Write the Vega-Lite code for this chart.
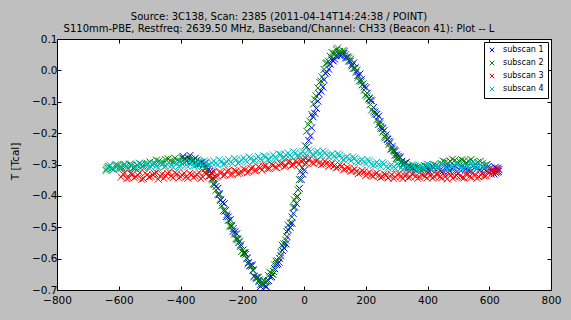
{
"$schema":"https://vega.github.io/schema/vega-lite/v6.json",
"width":494,"height":251,
"autosize":{"type":"none"},
"padding":{"left":57,"top":39,"right":20,"bottom":30},
"background":"#bfbfbf",
"title":{"text":["Source: 3C138, Scan: 2385 (2011-04-14T14:24:38 / POINT)","S110mm-PBE, Restfreq: 2639.50 MHz, Baseband/Channel: CH33 (Beacon 41): Plot -- L"],"fontSize":10,"font":"DejaVu Sans","fontWeight":"normal","color":"black","anchor":"middle","dx":-25,"offset":0,"lineHeight":12},
"config":{"view":{"fill":"white","stroke":"black","strokeWidth":1},
"axis":{"grid":false,"domain":false,"labelFlush":false,"labelOverlap":false,"tickColor":"black","tickSize":-4,"tickWidth":1,"labelColor":"black","labelFont":"DejaVu Sans","labelFontSize":10.5,"labelPadding":4,"titleFont":"DejaVu Sans","titleFontSize":10.5,"titleFontWeight":"normal","titleColor":"black"},
"legend":{"orient":"top-right","offset":3,"padding":4,"strokeColor":"black","fillColor":"white","labelFont":"DejaVu Sans","labelFontSize":8,"labelColor":"black","rowPadding":3,"symbolSize":20,"symbolStrokeWidth":1,"symbolType":"M-1,-1L1,1M1,-1L-1,1","symbolFillColor":"transparent","labelOffset":7}},
"data":{"values":[
{"s":"subscan 1","x":-392,"y":-0.274},{"s":"subscan 1","x":-381,"y":-0.29},{"s":"subscan 1","x":-369,"y":-0.271},{"s":"subscan 1","x":-358,"y":-0.288},{"s":"subscan 1","x":-352,"y":-0.28},{"s":"subscan 1","x":-341,"y":-0.3},{"s":"subscan 1","x":-332,"y":-0.293},{"s":"subscan 1","x":-322,"y":-0.296},{"s":"subscan 1","x":-311,"y":-0.316},{"s":"subscan 1","x":-300,"y":-0.326},{"s":"subscan 1","x":-291,"y":-0.364},{"s":"subscan 1","x":-279,"y":-0.376},{"s":"subscan 1","x":-270,"y":-0.414},{"s":"subscan 1","x":-258,"y":-0.425},{"s":"subscan 1","x":-251,"y":-0.466},{"s":"subscan 1","x":-239,"y":-0.476},{"s":"subscan 1","x":-230,"y":-0.513},{"s":"subscan 1","x":-218,"y":-0.521},{"s":"subscan 1","x":-211,"y":-0.549},{"s":"subscan 1","x":-198,"y":-0.573},{"s":"subscan 1","x":-191,"y":-0.582},{"s":"subscan 1","x":-180,"y":-0.612},{"s":"subscan 1","x":-169,"y":-0.62},{"s":"subscan 1","x":-161,"y":-0.656},{"s":"subscan 1","x":-150,"y":-0.661},{"s":"subscan 1","x":-141,"y":-0.689},{"s":"subscan 1","x":-129,"y":-0.682},{"s":"subscan 1","x":-122,"y":-0.69},{"s":"subscan 1","x":-109,"y":-0.659},{"s":"subscan 1","x":-101,"y":-0.65},{"s":"subscan 1","x":-89,"y":-0.619},{"s":"subscan 1","x":-81,"y":-0.611},{"s":"subscan 1","x":-70,"y":-0.574},{"s":"subscan 1","x":-59,"y":-0.553},{"s":"subscan 1","x":-51,"y":-0.508},{"s":"subscan 1","x":-39,"y":-0.487},{"s":"subscan 1","x":-30,"y":-0.436},{"s":"subscan 1","x":-21,"y":-0.402},{"s":"subscan 1","x":-9,"y":-0.348},{"s":"subscan 1","x":1,"y":-0.318},{"s":"subscan 1","x":9,"y":-0.244},{"s":"subscan 1","x":21,"y":-0.209},{"s":"subscan 1","x":29,"y":-0.148},{"s":"subscan 1","x":40,"y":-0.121},{"s":"subscan 1","x":49,"y":-0.075},{"s":"subscan 1","x":61,"y":-0.053},{"s":"subscan 1","x":69,"y":-0.009},{"s":"subscan 1","x":80,"y":0.004},{"s":"subscan 1","x":91,"y":0.033},{"s":"subscan 1","x":99,"y":0.036},{"s":"subscan 1","x":111,"y":0.056},{"s":"subscan 1","x":121,"y":0.047},{"s":"subscan 1","x":129,"y":0.054},{"s":"subscan 1","x":141,"y":0.043},{"s":"subscan 1","x":150,"y":0.029},{"s":"subscan 1","x":161,"y":0.024},{"s":"subscan 1","x":169,"y":-0.006},{"s":"subscan 1","x":181,"y":-0.012},{"s":"subscan 1","x":189,"y":-0.046},{"s":"subscan 1","x":201,"y":-0.055},{"s":"subscan 1","x":211,"y":-0.091},{"s":"subscan 1","x":219,"y":-0.097},{"s":"subscan 1","x":230,"y":-0.133},{"s":"subscan 1","x":242,"y":-0.146},{"s":"subscan 1","x":250,"y":-0.184},{"s":"subscan 1","x":259,"y":-0.192},{"s":"subscan 1","x":271,"y":-0.22},{"s":"subscan 1","x":279,"y":-0.229},{"s":"subscan 1","x":291,"y":-0.256},{"s":"subscan 1","x":300,"y":-0.27},{"s":"subscan 1","x":310,"y":-0.276},{"s":"subscan 1","x":321,"y":-0.299},{"s":"subscan 1","x":331,"y":-0.294},{"s":"subscan 1","x":341,"y":-0.311},{"s":"subscan 1","x":352,"y":-0.313},{"s":"subscan 1","x":368,"y":-0.308},{"s":"subscan 1","x":381,"y":-0.32},{"s":"subscan 1","x":398,"y":-0.306},{"s":"subscan 1","x":412,"y":-0.316},{"s":"subscan 1","x":427,"y":-0.305},{"s":"subscan 1","x":441,"y":-0.318},{"s":"subscan 1","x":458,"y":-0.309},{"s":"subscan 1","x":471,"y":-0.319},{"s":"subscan 1","x":487,"y":-0.304},{"s":"subscan 1","x":502,"y":-0.315},{"s":"subscan 1","x":518,"y":-0.311},{"s":"subscan 1","x":531,"y":-0.319},{"s":"subscan 1","x":547,"y":-0.306},{"s":"subscan 1","x":562,"y":-0.313},{"s":"subscan 1","x":578,"y":-0.308},{"s":"subscan 1","x":591,"y":-0.321},{"s":"subscan 1","x":603,"y":-0.312},{"s":"subscan 1","x":611,"y":-0.325},{"s":"subscan 1","x":619,"y":-0.309},{"s":"subscan 1","x":626,"y":-0.324},{"s":"subscan 1","x":631,"y":-0.316},
{"s":"subscan 1","x":-386,"y":-0.283},{"s":"subscan 1","x":-375,"y":-0.279},{"s":"subscan 1","x":-363,"y":-0.29},{"s":"subscan 1","x":-346,"y":-0.286},{"s":"subscan 1","x":-336,"y":-0.297},{"s":"subscan 1","x":-327,"y":-0.301},{"s":"subscan 1","x":-316,"y":-0.306},{"s":"subscan 1","x":-305,"y":-0.322},{"s":"subscan 1","x":-295,"y":-0.343},{"s":"subscan 1","x":-285,"y":-0.37},{"s":"subscan 1","x":-275,"y":-0.393},{"s":"subscan 1","x":-264,"y":-0.421},{"s":"subscan 1","x":-255,"y":-0.447},{"s":"subscan 1","x":-245,"y":-0.467},{"s":"subscan 1","x":-235,"y":-0.497},{"s":"subscan 1","x":-224,"y":-0.515},{"s":"subscan 1","x":-215,"y":-0.537},{"s":"subscan 1","x":-205,"y":-0.556},{"s":"subscan 1","x":-195,"y":-0.581},{"s":"subscan 1","x":-185,"y":-0.598},{"s":"subscan 1","x":-175,"y":-0.622},{"s":"subscan 1","x":-165,"y":-0.636},{"s":"subscan 1","x":-155,"y":-0.66},{"s":"subscan 1","x":-146,"y":-0.673},{"s":"subscan 1","x":-135,"y":-0.683},{"s":"subscan 1","x":-125,"y":-0.688},{"s":"subscan 1","x":-115,"y":-0.67},{"s":"subscan 1","x":-105,"y":-0.657},{"s":"subscan 1","x":-95,"y":-0.632},{"s":"subscan 1","x":-85,"y":-0.616},{"s":"subscan 1","x":-75,"y":-0.59},{"s":"subscan 1","x":-65,"y":-0.566},{"s":"subscan 1","x":-55,"y":-0.53},{"s":"subscan 1","x":-45,"y":-0.5},{"s":"subscan 1","x":-35,"y":-0.456},{"s":"subscan 1","x":-25,"y":-0.424},{"s":"subscan 1","x":-15,"y":-0.376},{"s":"subscan 1","x":-4,"y":-0.331},{"s":"subscan 1","x":5,"y":-0.28},{"s":"subscan 1","x":15,"y":-0.223},{"s":"subscan 1","x":25,"y":-0.183},{"s":"subscan 1","x":35,"y":-0.137},{"s":"subscan 1","x":45,"y":-0.098},{"s":"subscan 1","x":55,"y":-0.066},{"s":"subscan 1","x":65,"y":-0.03},{"s":"subscan 1","x":75,"y":-0.006},{"s":"subscan 1","x":85,"y":0.02},{"s":"subscan 1","x":95,"y":0.03},{"s":"subscan 1","x":105,"y":0.046},{"s":"subscan 1","x":116,"y":0.047},{"s":"subscan 1","x":125,"y":0.052},{"s":"subscan 1","x":135,"y":0.04},{"s":"subscan 1","x":145,"y":0.03},{"s":"subscan 1","x":155,"y":0.014},{"s":"subscan 1","x":165,"y":0.008},{"s":"subscan 1","x":175,"y":-0.016},{"s":"subscan 1","x":185,"y":-0.03},{"s":"subscan 1","x":195,"y":-0.052},{"s":"subscan 1","x":205,"y":-0.073},{"s":"subscan 1","x":215,"y":-0.095},{"s":"subscan 1","x":225,"y":-0.118},{"s":"subscan 1","x":236,"y":-0.14},{"s":"subscan 1","x":246,"y":-0.163},{"s":"subscan 1","x":255,"y":-0.185},{"s":"subscan 1","x":265,"y":-0.206},{"s":"subscan 1","x":275,"y":-0.226},{"s":"subscan 1","x":285,"y":-0.243},{"s":"subscan 1","x":295,"y":-0.258},{"s":"subscan 1","x":305,"y":-0.274},{"s":"subscan 1","x":316,"y":-0.29},{"s":"subscan 1","x":326,"y":-0.296},{"s":"subscan 1","x":336,"y":-0.305},{"s":"subscan 1","x":346,"y":-0.309},{"s":"subscan 1","x":360,"y":-0.317},{"s":"subscan 1","x":375,"y":-0.309},{"s":"subscan 1","x":390,"y":-0.314},{"s":"subscan 1","x":405,"y":-0.321},{"s":"subscan 1","x":420,"y":-0.31},{"s":"subscan 1","x":434,"y":-0.312},{"s":"subscan 1","x":450,"y":-0.321},{"s":"subscan 1","x":465,"y":-0.309},{"s":"subscan 1","x":480,"y":-0.314},{"s":"subscan 1","x":495,"y":-0.322},{"s":"subscan 1","x":510,"y":-0.308},{"s":"subscan 1","x":525,"y":-0.314},{"s":"subscan 1","x":540,"y":-0.322},{"s":"subscan 1","x":555,"y":-0.309},{"s":"subscan 1","x":570,"y":-0.316},{"s":"subscan 1","x":585,"y":-0.313},{"s":"subscan 1","x":597,"y":-0.306},{"s":"subscan 1","x":607,"y":-0.318},{"s":"subscan 1","x":615,"y":-0.33},{"s":"subscan 1","x":623,"y":-0.312},{"s":"subscan 1","x":629,"y":-0.322},
{"s":"subscan 2","x":-641,"y":-0.319},{"s":"subscan 2","x":-632,"y":-0.306},{"s":"subscan 2","x":-624,"y":-0.313},{"s":"subscan 2","x":-611,"y":-0.305},{"s":"subscan 2","x":-598,"y":-0.309},{"s":"subscan 2","x":-583,"y":-0.3},{"s":"subscan 2","x":-571,"y":-0.314},{"s":"subscan 2","x":-560,"y":-0.302},{"s":"subscan 2","x":-548,"y":-0.309},{"s":"subscan 2","x":-533,"y":-0.296},{"s":"subscan 2","x":-521,"y":-0.305},{"s":"subscan 2","x":-506,"y":-0.297},{"s":"subscan 2","x":-492,"y":-0.3},{"s":"subscan 2","x":-478,"y":-0.286},{"s":"subscan 2","x":-463,"y":-0.294},{"s":"subscan 2","x":-448,"y":-0.284},{"s":"subscan 2","x":-433,"y":-0.289},{"s":"subscan 2","x":-418,"y":-0.28},{"s":"subscan 2","x":-402,"y":-0.29},{"s":"subscan 2","x":-389,"y":-0.282},{"s":"subscan 2","x":-374,"y":-0.294},{"s":"subscan 2","x":-358,"y":-0.285},{"s":"subscan 2","x":-344,"y":-0.3},{"s":"subscan 2","x":-333,"y":-0.297},{"s":"subscan 2","x":-321,"y":-0.314},{"s":"subscan 2","x":-312,"y":-0.318},{"s":"subscan 2","x":-299,"y":-0.346},{"s":"subscan 2","x":-292,"y":-0.36},{"s":"subscan 2","x":-279,"y":-0.396},{"s":"subscan 2","x":-271,"y":-0.411},{"s":"subscan 2","x":-261,"y":-0.447},{"s":"subscan 2","x":-249,"y":-0.459},{"s":"subscan 2","x":-241,"y":-0.496},{"s":"subscan 2","x":-229,"y":-0.504},{"s":"subscan 2","x":-221,"y":-0.537},{"s":"subscan 2","x":-209,"y":-0.544},{"s":"subscan 2","x":-202,"y":-0.577},{"s":"subscan 2","x":-189,"y":-0.586},{"s":"subscan 2","x":-181,"y":-0.617},{"s":"subscan 2","x":-169,"y":-0.624},{"s":"subscan 2","x":-162,"y":-0.657},{"s":"subscan 2","x":-149,"y":-0.659},{"s":"subscan 2","x":-141,"y":-0.682},{"s":"subscan 2","x":-131,"y":-0.669},{"s":"subscan 2","x":-119,"y":-0.672},{"s":"subscan 2","x":-111,"y":-0.643},{"s":"subscan 2","x":-99,"y":-0.641},{"s":"subscan 2","x":-91,"y":-0.608},{"s":"subscan 2","x":-79,"y":-0.6},{"s":"subscan 2","x":-71,"y":-0.557},{"s":"subscan 2","x":-59,"y":-0.541},{"s":"subscan 2","x":-51,"y":-0.493},{"s":"subscan 2","x":-39,"y":-0.467},{"s":"subscan 2","x":-31,"y":-0.413},{"s":"subscan 2","x":-19,"y":-0.381},{"s":"subscan 2","x":-11,"y":-0.322},{"s":"subscan 2","x":-1,"y":-0.286},{"s":"subscan 2","x":9,"y":-0.194},{"s":"subscan 2","x":19,"y":-0.162},{"s":"subscan 2","x":31,"y":-0.107},{"s":"subscan 2","x":39,"y":-0.081},{"s":"subscan 2","x":51,"y":-0.038},{"s":"subscan 2","x":59,"y":-0.021},{"s":"subscan 2","x":71,"y":0.022},{"s":"subscan 2","x":79,"y":0.029},{"s":"subscan 2","x":91,"y":0.057},{"s":"subscan 2","x":101,"y":0.054},{"s":"subscan 2","x":109,"y":0.071},{"s":"subscan 2","x":121,"y":0.055},{"s":"subscan 2","x":131,"y":0.061},{"s":"subscan 2","x":139,"y":0.04},{"s":"subscan 2","x":151,"y":0.036},{"s":"subscan 2","x":159,"y":0.006},{"s":"subscan 2","x":171,"y":0.001},{"s":"subscan 2","x":179,"y":-0.034},{"s":"subscan 2","x":191,"y":-0.043},{"s":"subscan 2","x":199,"y":-0.079},{"s":"subscan 2","x":211,"y":-0.088},{"s":"subscan 2","x":219,"y":-0.126},{"s":"subscan 2","x":231,"y":-0.139},{"s":"subscan 2","x":241,"y":-0.172},{"s":"subscan 2","x":249,"y":-0.178},{"s":"subscan 2","x":261,"y":-0.212},{"s":"subscan 2","x":269,"y":-0.218},{"s":"subscan 2","x":281,"y":-0.251},{"s":"subscan 2","x":291,"y":-0.253},{"s":"subscan 2","x":299,"y":-0.281},{"s":"subscan 2","x":311,"y":-0.279},{"s":"subscan 2","x":321,"y":-0.302},{"s":"subscan 2","x":331,"y":-0.294},{"s":"subscan 2","x":346,"y":-0.316},{"s":"subscan 2","x":361,"y":-0.305},{"s":"subscan 2","x":376,"y":-0.315},{"s":"subscan 2","x":391,"y":-0.304},{"s":"subscan 2","x":406,"y":-0.313},{"s":"subscan 2","x":421,"y":-0.3},{"s":"subscan 2","x":436,"y":-0.306},{"s":"subscan 2","x":451,"y":-0.289},{"s":"subscan 2","x":466,"y":-0.295},{"s":"subscan 2","x":481,"y":-0.283},{"s":"subscan 2","x":496,"y":-0.293},{"s":"subscan 2","x":511,"y":-0.285},{"s":"subscan 2","x":526,"y":-0.294},{"s":"subscan 2","x":541,"y":-0.284},{"s":"subscan 2","x":556,"y":-0.298},{"s":"subscan 2","x":571,"y":-0.29},{"s":"subscan 2","x":586,"y":-0.303},
{"s":"subscan 2","x":-636,"y":-0.311},{"s":"subscan 2","x":-618,"y":-0.316},{"s":"subscan 2","x":-604,"y":-0.302},{"s":"subscan 2","x":-590,"y":-0.311},{"s":"subscan 2","x":-577,"y":-0.305},{"s":"subscan 2","x":-565,"y":-0.299},{"s":"subscan 2","x":-554,"y":-0.311},{"s":"subscan 2","x":-540,"y":-0.303},{"s":"subscan 2","x":-527,"y":-0.3},{"s":"subscan 2","x":-513,"y":-0.306},{"s":"subscan 2","x":-499,"y":-0.292},{"s":"subscan 2","x":-485,"y":-0.297},{"s":"subscan 2","x":-470,"y":-0.289},{"s":"subscan 2","x":-455,"y":-0.296},{"s":"subscan 2","x":-440,"y":-0.282},{"s":"subscan 2","x":-425,"y":-0.292},{"s":"subscan 2","x":-410,"y":-0.286},{"s":"subscan 2","x":-395,"y":-0.278},{"s":"subscan 2","x":-381,"y":-0.289},{"s":"subscan 2","x":-366,"y":-0.283},{"s":"subscan 2","x":-351,"y":-0.292},{"s":"subscan 2","x":-338,"y":-0.291},{"s":"subscan 2","x":-327,"y":-0.305},{"s":"subscan 2","x":-316,"y":-0.311},{"s":"subscan 2","x":-305,"y":-0.335},{"s":"subscan 2","x":-296,"y":-0.349},{"s":"subscan 2","x":-285,"y":-0.382},{"s":"subscan 2","x":-275,"y":-0.397},{"s":"subscan 2","x":-266,"y":-0.431},{"s":"subscan 2","x":-255,"y":-0.448},{"s":"subscan 2","x":-245,"y":-0.478},{"s":"subscan 2","x":-235,"y":-0.494},{"s":"subscan 2","x":-225,"y":-0.522},{"s":"subscan 2","x":-215,"y":-0.54},{"s":"subscan 2","x":-206,"y":-0.561},{"s":"subscan 2","x":-195,"y":-0.583},{"s":"subscan 2","x":-185,"y":-0.6},{"s":"subscan 2","x":-175,"y":-0.623},{"s":"subscan 2","x":-165,"y":-0.638},{"s":"subscan 2","x":-155,"y":-0.664},{"s":"subscan 2","x":-145,"y":-0.668},{"s":"subscan 2","x":-136,"y":-0.68},{"s":"subscan 2","x":-125,"y":-0.674},{"s":"subscan 2","x":-115,"y":-0.654},{"s":"subscan 2","x":-105,"y":-0.648},{"s":"subscan 2","x":-95,"y":-0.62},{"s":"subscan 2","x":-85,"y":-0.607},{"s":"subscan 2","x":-75,"y":-0.58},{"s":"subscan 2","x":-65,"y":-0.553},{"s":"subscan 2","x":-55,"y":-0.515},{"s":"subscan 2","x":-45,"y":-0.487},{"s":"subscan 2","x":-35,"y":-0.437},{"s":"subscan 2","x":-25,"y":-0.404},{"s":"subscan 2","x":-15,"y":-0.348},{"s":"subscan 2","x":-6,"y":-0.311},{"s":"subscan 2","x":4,"y":-0.24},{"s":"subscan 2","x":14,"y":-0.173},{"s":"subscan 2","x":25,"y":-0.14},{"s":"subscan 2","x":35,"y":-0.092},{"s":"subscan 2","x":45,"y":-0.056},{"s":"subscan 2","x":55,"y":-0.034},{"s":"subscan 2","x":65,"y":0.003},{"s":"subscan 2","x":75,"y":0.024},{"s":"subscan 2","x":85,"y":0.045},{"s":"subscan 2","x":96,"y":0.052},{"s":"subscan 2","x":105,"y":0.066},{"s":"subscan 2","x":115,"y":0.06},{"s":"subscan 2","x":126,"y":0.063},{"s":"subscan 2","x":135,"y":0.05},{"s":"subscan 2","x":145,"y":0.04},{"s":"subscan 2","x":155,"y":0.019},{"s":"subscan 2","x":165,"y":0.006},{"s":"subscan 2","x":175,"y":-0.022},{"s":"subscan 2","x":185,"y":-0.036},{"s":"subscan 2","x":195,"y":-0.063},{"s":"subscan 2","x":205,"y":-0.082},{"s":"subscan 2","x":215,"y":-0.109},{"s":"subscan 2","x":225,"y":-0.13},{"s":"subscan 2","x":236,"y":-0.158},{"s":"subscan 2","x":245,"y":-0.171},{"s":"subscan 2","x":255,"y":-0.197},{"s":"subscan 2","x":265,"y":-0.214},{"s":"subscan 2","x":275,"y":-0.236},{"s":"subscan 2","x":286,"y":-0.25},{"s":"subscan 2","x":295,"y":-0.27},{"s":"subscan 2","x":305,"y":-0.281},{"s":"subscan 2","x":316,"y":-0.293},{"s":"subscan 2","x":326,"y":-0.299},{"s":"subscan 2","x":338,"y":-0.307},{"s":"subscan 2","x":354,"y":-0.311},{"s":"subscan 2","x":368,"y":-0.309},{"s":"subscan 2","x":384,"y":-0.313},{"s":"subscan 2","x":398,"y":-0.307},{"s":"subscan 2","x":414,"y":-0.306},{"s":"subscan 2","x":428,"y":-0.303},{"s":"subscan 2","x":444,"y":-0.297},{"s":"subscan 2","x":458,"y":-0.292},{"s":"subscan 2","x":474,"y":-0.29},{"s":"subscan 2","x":488,"y":-0.287},{"s":"subscan 2","x":504,"y":-0.29},{"s":"subscan 2","x":518,"y":-0.288},{"s":"subscan 2","x":534,"y":-0.29},{"s":"subscan 2","x":548,"y":-0.291},{"s":"subscan 2","x":563,"y":-0.293},{"s":"subscan 2","x":578,"y":-0.296},{"s":"subscan 2","x":592,"y":-0.3},
{"s":"subscan 3","x":-592,"y":-0.34},{"s":"subscan 3","x":-580,"y":-0.328},{"s":"subscan 3","x":-568,"y":-0.343},{"s":"subscan 3","x":-556,"y":-0.331},{"s":"subscan 3","x":-544,"y":-0.339},{"s":"subscan 3","x":-532,"y":-0.326},{"s":"subscan 3","x":-520,"y":-0.345},{"s":"subscan 3","x":-508,"y":-0.333},{"s":"subscan 3","x":-496,"y":-0.338},{"s":"subscan 3","x":-484,"y":-0.329},{"s":"subscan 3","x":-472,"y":-0.347},{"s":"subscan 3","x":-460,"y":-0.331},{"s":"subscan 3","x":-448,"y":-0.336},{"s":"subscan 3","x":-436,"y":-0.324},{"s":"subscan 3","x":-424,"y":-0.342},{"s":"subscan 3","x":-412,"y":-0.33},{"s":"subscan 3","x":-400,"y":-0.339},{"s":"subscan 3","x":-388,"y":-0.327},{"s":"subscan 3","x":-376,"y":-0.344},{"s":"subscan 3","x":-364,"y":-0.333},{"s":"subscan 3","x":-352,"y":-0.337},{"s":"subscan 3","x":-340,"y":-0.325},{"s":"subscan 3","x":-328,"y":-0.34},{"s":"subscan 3","x":-316,"y":-0.329},{"s":"subscan 3","x":-304,"y":-0.336},{"s":"subscan 3","x":-292,"y":-0.322},{"s":"subscan 3","x":-280,"y":-0.337},{"s":"subscan 3","x":-268,"y":-0.326},{"s":"subscan 3","x":-256,"y":-0.333},{"s":"subscan 3","x":-244,"y":-0.318},{"s":"subscan 3","x":-232,"y":-0.331},{"s":"subscan 3","x":-220,"y":-0.321},{"s":"subscan 3","x":-208,"y":-0.327},{"s":"subscan 3","x":-196,"y":-0.314},{"s":"subscan 3","x":-184,"y":-0.326},{"s":"subscan 3","x":-172,"y":-0.312},{"s":"subscan 3","x":-160,"y":-0.32},{"s":"subscan 3","x":-148,"y":-0.307},{"s":"subscan 3","x":-136,"y":-0.318},{"s":"subscan 3","x":-124,"y":-0.304},{"s":"subscan 3","x":-112,"y":-0.313},{"s":"subscan 3","x":-100,"y":-0.302},{"s":"subscan 3","x":-88,"y":-0.31},{"s":"subscan 3","x":-76,"y":-0.297},{"s":"subscan 3","x":-64,"y":-0.307},{"s":"subscan 3","x":-52,"y":-0.293},{"s":"subscan 3","x":-40,"y":-0.303},{"s":"subscan 3","x":-28,"y":-0.289},{"s":"subscan 3","x":-16,"y":-0.299},{"s":"subscan 3","x":-4,"y":-0.284},{"s":"subscan 3","x":8,"y":-0.296},{"s":"subscan 3","x":20,"y":-0.282},{"s":"subscan 3","x":32,"y":-0.297},{"s":"subscan 3","x":44,"y":-0.286},{"s":"subscan 3","x":56,"y":-0.301},{"s":"subscan 3","x":68,"y":-0.29},{"s":"subscan 3","x":80,"y":-0.306},{"s":"subscan 3","x":92,"y":-0.296},{"s":"subscan 3","x":104,"y":-0.311},{"s":"subscan 3","x":116,"y":-0.301},{"s":"subscan 3","x":128,"y":-0.317},{"s":"subscan 3","x":140,"y":-0.309},{"s":"subscan 3","x":152,"y":-0.322},{"s":"subscan 3","x":164,"y":-0.314},{"s":"subscan 3","x":176,"y":-0.329},{"s":"subscan 3","x":188,"y":-0.319},{"s":"subscan 3","x":200,"y":-0.335},{"s":"subscan 3","x":212,"y":-0.324},{"s":"subscan 3","x":224,"y":-0.338},{"s":"subscan 3","x":236,"y":-0.327},{"s":"subscan 3","x":248,"y":-0.341},{"s":"subscan 3","x":260,"y":-0.33},{"s":"subscan 3","x":272,"y":-0.343},{"s":"subscan 3","x":284,"y":-0.332},{"s":"subscan 3","x":296,"y":-0.34},{"s":"subscan 3","x":308,"y":-0.329},{"s":"subscan 3","x":320,"y":-0.345},{"s":"subscan 3","x":332,"y":-0.333},{"s":"subscan 3","x":344,"y":-0.339},{"s":"subscan 3","x":356,"y":-0.328},{"s":"subscan 3","x":368,"y":-0.344},{"s":"subscan 3","x":380,"y":-0.331},{"s":"subscan 3","x":392,"y":-0.338},{"s":"subscan 3","x":404,"y":-0.326},{"s":"subscan 3","x":416,"y":-0.343},{"s":"subscan 3","x":428,"y":-0.332},{"s":"subscan 3","x":440,"y":-0.34},{"s":"subscan 3","x":452,"y":-0.327},{"s":"subscan 3","x":464,"y":-0.346},{"s":"subscan 3","x":476,"y":-0.334},{"s":"subscan 3","x":488,"y":-0.338},{"s":"subscan 3","x":500,"y":-0.328},{"s":"subscan 3","x":512,"y":-0.342},{"s":"subscan 3","x":524,"y":-0.331},{"s":"subscan 3","x":536,"y":-0.339},{"s":"subscan 3","x":548,"y":-0.326},{"s":"subscan 3","x":560,"y":-0.344},{"s":"subscan 3","x":572,"y":-0.333},{"s":"subscan 3","x":584,"y":-0.337},{"s":"subscan 3","x":596,"y":-0.323},{"s":"subscan 3","x":606,"y":-0.331},{"s":"subscan 3","x":614,"y":-0.315},{"s":"subscan 3","x":622,"y":-0.327},{"s":"subscan 3","x":628,"y":-0.312},
{"s":"subscan 3","x":-586,"y":-0.331},{"s":"subscan 3","x":-574,"y":-0.345},{"s":"subscan 3","x":-562,"y":-0.329},{"s":"subscan 3","x":-550,"y":-0.342},{"s":"subscan 3","x":-538,"y":-0.334},{"s":"subscan 3","x":-526,"y":-0.347},{"s":"subscan 3","x":-514,"y":-0.327},{"s":"subscan 3","x":-502,"y":-0.34},{"s":"subscan 3","x":-490,"y":-0.333},{"s":"subscan 3","x":-478,"y":-0.325},{"s":"subscan 3","x":-466,"y":-0.338},{"s":"subscan 3","x":-454,"y":-0.344},{"s":"subscan 3","x":-442,"y":-0.329},{"s":"subscan 3","x":-430,"y":-0.337},{"s":"subscan 3","x":-418,"y":-0.326},{"s":"subscan 3","x":-406,"y":-0.343},{"s":"subscan 3","x":-394,"y":-0.334},{"s":"subscan 3","x":-382,"y":-0.339},{"s":"subscan 3","x":-370,"y":-0.328},{"s":"subscan 3","x":-358,"y":-0.341},{"s":"subscan 3","x":-346,"y":-0.332},{"s":"subscan 3","x":-334,"y":-0.345},{"s":"subscan 3","x":-322,"y":-0.326},{"s":"subscan 3","x":-310,"y":-0.338},{"s":"subscan 3","x":-298,"y":-0.331},{"s":"subscan 3","x":-286,"y":-0.34},{"s":"subscan 3","x":-274,"y":-0.324},{"s":"subscan 3","x":-262,"y":-0.336},{"s":"subscan 3","x":-250,"y":-0.322},{"s":"subscan 3","x":-238,"y":-0.333},{"s":"subscan 3","x":-226,"y":-0.318},{"s":"subscan 3","x":-214,"y":-0.329},{"s":"subscan 3","x":-202,"y":-0.324},{"s":"subscan 3","x":-190,"y":-0.317},{"s":"subscan 3","x":-178,"y":-0.323},{"s":"subscan 3","x":-166,"y":-0.309},{"s":"subscan 3","x":-154,"y":-0.318},{"s":"subscan 3","x":-142,"y":-0.311},{"s":"subscan 3","x":-130,"y":-0.306},{"s":"subscan 3","x":-118,"y":-0.314},{"s":"subscan 3","x":-106,"y":-0.3},{"s":"subscan 3","x":-94,"y":-0.309},{"s":"subscan 3","x":-82,"y":-0.302},{"s":"subscan 3","x":-70,"y":-0.296},{"s":"subscan 3","x":-58,"y":-0.304},{"s":"subscan 3","x":-46,"y":-0.291},{"s":"subscan 3","x":-34,"y":-0.3},{"s":"subscan 3","x":-22,"y":-0.292},{"s":"subscan 3","x":-10,"y":-0.288},{"s":"subscan 3","x":2,"y":-0.298},{"s":"subscan 3","x":14,"y":-0.285},{"s":"subscan 3","x":26,"y":-0.294},{"s":"subscan 3","x":38,"y":-0.289},{"s":"subscan 3","x":50,"y":-0.295},{"s":"subscan 3","x":62,"y":-0.298},{"s":"subscan 3","x":74,"y":-0.296},{"s":"subscan 3","x":86,"y":-0.3},{"s":"subscan 3","x":98,"y":-0.304},{"s":"subscan 3","x":110,"y":-0.308},{"s":"subscan 3","x":122,"y":-0.306},{"s":"subscan 3","x":134,"y":-0.315},{"s":"subscan 3","x":146,"y":-0.313},{"s":"subscan 3","x":158,"y":-0.319},{"s":"subscan 3","x":170,"y":-0.322},{"s":"subscan 3","x":182,"y":-0.326},{"s":"subscan 3","x":194,"y":-0.324},{"s":"subscan 3","x":206,"y":-0.33},{"s":"subscan 3","x":218,"y":-0.334},{"s":"subscan 3","x":230,"y":-0.331},{"s":"subscan 3","x":242,"y":-0.336},{"s":"subscan 3","x":254,"y":-0.339},{"s":"subscan 3","x":266,"y":-0.334},{"s":"subscan 3","x":278,"y":-0.338},{"s":"subscan 3","x":290,"y":-0.344},{"s":"subscan 3","x":302,"y":-0.333},{"s":"subscan 3","x":314,"y":-0.338},{"s":"subscan 3","x":326,"y":-0.336},{"s":"subscan 3","x":338,"y":-0.342},{"s":"subscan 3","x":350,"y":-0.331},{"s":"subscan 3","x":362,"y":-0.338},{"s":"subscan 3","x":374,"y":-0.34},{"s":"subscan 3","x":386,"y":-0.334},{"s":"subscan 3","x":398,"y":-0.343},{"s":"subscan 3","x":410,"y":-0.336},{"s":"subscan 3","x":422,"y":-0.339},{"s":"subscan 3","x":434,"y":-0.331},{"s":"subscan 3","x":446,"y":-0.343},{"s":"subscan 3","x":458,"y":-0.338},{"s":"subscan 3","x":470,"y":-0.331},{"s":"subscan 3","x":482,"y":-0.344},{"s":"subscan 3","x":494,"y":-0.335},{"s":"subscan 3","x":506,"y":-0.337},{"s":"subscan 3","x":518,"y":-0.343},{"s":"subscan 3","x":530,"y":-0.33},{"s":"subscan 3","x":542,"y":-0.341},{"s":"subscan 3","x":554,"y":-0.335},{"s":"subscan 3","x":566,"y":-0.339},{"s":"subscan 3","x":578,"y":-0.329},{"s":"subscan 3","x":590,"y":-0.336},{"s":"subscan 3","x":600,"y":-0.326},{"s":"subscan 3","x":610,"y":-0.32},{"s":"subscan 3","x":618,"y":-0.322},{"s":"subscan 3","x":625,"y":-0.318},
{"s":"subscan 4","x":-640,"y":-0.314},{"s":"subscan 4","x":-628,"y":-0.302},{"s":"subscan 4","x":-616,"y":-0.316},{"s":"subscan 4","x":-604,"y":-0.305},{"s":"subscan 4","x":-592,"y":-0.311},{"s":"subscan 4","x":-580,"y":-0.299},{"s":"subscan 4","x":-568,"y":-0.315},{"s":"subscan 4","x":-556,"y":-0.303},{"s":"subscan 4","x":-544,"y":-0.309},{"s":"subscan 4","x":-532,"y":-0.297},{"s":"subscan 4","x":-520,"y":-0.312},{"s":"subscan 4","x":-508,"y":-0.3},{"s":"subscan 4","x":-496,"y":-0.308},{"s":"subscan 4","x":-484,"y":-0.295},{"s":"subscan 4","x":-472,"y":-0.311},{"s":"subscan 4","x":-460,"y":-0.299},{"s":"subscan 4","x":-448,"y":-0.306},{"s":"subscan 4","x":-436,"y":-0.294},{"s":"subscan 4","x":-424,"y":-0.309},{"s":"subscan 4","x":-412,"y":-0.297},{"s":"subscan 4","x":-400,"y":-0.305},{"s":"subscan 4","x":-388,"y":-0.292},{"s":"subscan 4","x":-376,"y":-0.307},{"s":"subscan 4","x":-364,"y":-0.296},{"s":"subscan 4","x":-352,"y":-0.303},{"s":"subscan 4","x":-340,"y":-0.29},{"s":"subscan 4","x":-328,"y":-0.305},{"s":"subscan 4","x":-316,"y":-0.293},{"s":"subscan 4","x":-304,"y":-0.301},{"s":"subscan 4","x":-292,"y":-0.288},{"s":"subscan 4","x":-280,"y":-0.302},{"s":"subscan 4","x":-268,"y":-0.29},{"s":"subscan 4","x":-256,"y":-0.298},{"s":"subscan 4","x":-244,"y":-0.284},{"s":"subscan 4","x":-232,"y":-0.297},{"s":"subscan 4","x":-220,"y":-0.285},{"s":"subscan 4","x":-208,"y":-0.293},{"s":"subscan 4","x":-196,"y":-0.279},{"s":"subscan 4","x":-184,"y":-0.292},{"s":"subscan 4","x":-172,"y":-0.28},{"s":"subscan 4","x":-160,"y":-0.288},{"s":"subscan 4","x":-148,"y":-0.274},{"s":"subscan 4","x":-136,"y":-0.287},{"s":"subscan 4","x":-124,"y":-0.275},{"s":"subscan 4","x":-112,"y":-0.283},{"s":"subscan 4","x":-100,"y":-0.269},{"s":"subscan 4","x":-88,"y":-0.281},{"s":"subscan 4","x":-76,"y":-0.268},{"s":"subscan 4","x":-64,"y":-0.277},{"s":"subscan 4","x":-52,"y":-0.263},{"s":"subscan 4","x":-40,"y":-0.276},{"s":"subscan 4","x":-28,"y":-0.263},{"s":"subscan 4","x":-16,"y":-0.272},{"s":"subscan 4","x":-4,"y":-0.258},{"s":"subscan 4","x":8,"y":-0.271},{"s":"subscan 4","x":20,"y":-0.259},{"s":"subscan 4","x":32,"y":-0.27},{"s":"subscan 4","x":44,"y":-0.257},{"s":"subscan 4","x":56,"y":-0.272},{"s":"subscan 4","x":68,"y":-0.262},{"s":"subscan 4","x":80,"y":-0.276},{"s":"subscan 4","x":92,"y":-0.266},{"s":"subscan 4","x":104,"y":-0.28},{"s":"subscan 4","x":116,"y":-0.27},{"s":"subscan 4","x":128,"y":-0.285},{"s":"subscan 4","x":140,"y":-0.275},{"s":"subscan 4","x":152,"y":-0.289},{"s":"subscan 4","x":164,"y":-0.28},{"s":"subscan 4","x":176,"y":-0.294},{"s":"subscan 4","x":188,"y":-0.284},{"s":"subscan 4","x":200,"y":-0.298},{"s":"subscan 4","x":212,"y":-0.289},{"s":"subscan 4","x":224,"y":-0.303},{"s":"subscan 4","x":236,"y":-0.293},{"s":"subscan 4","x":248,"y":-0.307},{"s":"subscan 4","x":260,"y":-0.298},{"s":"subscan 4","x":272,"y":-0.311},{"s":"subscan 4","x":284,"y":-0.301},{"s":"subscan 4","x":296,"y":-0.313},{"s":"subscan 4","x":308,"y":-0.303},{"s":"subscan 4","x":320,"y":-0.316},{"s":"subscan 4","x":332,"y":-0.305},{"s":"subscan 4","x":344,"y":-0.314},{"s":"subscan 4","x":356,"y":-0.302},{"s":"subscan 4","x":368,"y":-0.317},{"s":"subscan 4","x":380,"y":-0.306},{"s":"subscan 4","x":392,"y":-0.313},{"s":"subscan 4","x":404,"y":-0.301},{"s":"subscan 4","x":416,"y":-0.316},{"s":"subscan 4","x":428,"y":-0.305},{"s":"subscan 4","x":440,"y":-0.312},{"s":"subscan 4","x":452,"y":-0.3},{"s":"subscan 4","x":464,"y":-0.315},{"s":"subscan 4","x":476,"y":-0.304},{"s":"subscan 4","x":488,"y":-0.311},{"s":"subscan 4","x":500,"y":-0.299},{"s":"subscan 4","x":512,"y":-0.314},{"s":"subscan 4","x":524,"y":-0.303},{"s":"subscan 4","x":536,"y":-0.31},{"s":"subscan 4","x":548,"y":-0.298},{"s":"subscan 4","x":560,"y":-0.313},{"s":"subscan 4","x":572,"y":-0.302},{"s":"subscan 4","x":584,"y":-0.309},{"s":"subscan 4","x":594,"y":-0.3},
{"s":"subscan 4","x":-634,"y":-0.307},{"s":"subscan 4","x":-622,"y":-0.311},{"s":"subscan 4","x":-610,"y":-0.3},{"s":"subscan 4","x":-598,"y":-0.313},{"s":"subscan 4","x":-586,"y":-0.304},{"s":"subscan 4","x":-574,"y":-0.309},{"s":"subscan 4","x":-562,"y":-0.298},{"s":"subscan 4","x":-550,"y":-0.312},{"s":"subscan 4","x":-538,"y":-0.303},{"s":"subscan 4","x":-526,"y":-0.306},{"s":"subscan 4","x":-514,"y":-0.296},{"s":"subscan 4","x":-502,"y":-0.31},{"s":"subscan 4","x":-490,"y":-0.301},{"s":"subscan 4","x":-478,"y":-0.305},{"s":"subscan 4","x":-466,"y":-0.294},{"s":"subscan 4","x":-454,"y":-0.308},{"s":"subscan 4","x":-442,"y":-0.3},{"s":"subscan 4","x":-430,"y":-0.303},{"s":"subscan 4","x":-418,"y":-0.292},{"s":"subscan 4","x":-406,"y":-0.306},{"s":"subscan 4","x":-394,"y":-0.299},{"s":"subscan 4","x":-382,"y":-0.301},{"s":"subscan 4","x":-370,"y":-0.29},{"s":"subscan 4","x":-358,"y":-0.304},{"s":"subscan 4","x":-346,"y":-0.297},{"s":"subscan 4","x":-334,"y":-0.299},{"s":"subscan 4","x":-322,"y":-0.288},{"s":"subscan 4","x":-310,"y":-0.302},{"s":"subscan 4","x":-298,"y":-0.295},{"s":"subscan 4","x":-286,"y":-0.296},{"s":"subscan 4","x":-274,"y":-0.285},{"s":"subscan 4","x":-262,"y":-0.299},{"s":"subscan 4","x":-250,"y":-0.291},{"s":"subscan 4","x":-238,"y":-0.292},{"s":"subscan 4","x":-226,"y":-0.281},{"s":"subscan 4","x":-214,"y":-0.295},{"s":"subscan 4","x":-202,"y":-0.286},{"s":"subscan 4","x":-190,"y":-0.287},{"s":"subscan 4","x":-178,"y":-0.276},{"s":"subscan 4","x":-166,"y":-0.29},{"s":"subscan 4","x":-154,"y":-0.281},{"s":"subscan 4","x":-142,"y":-0.283},{"s":"subscan 4","x":-130,"y":-0.272},{"s":"subscan 4","x":-118,"y":-0.285},{"s":"subscan 4","x":-106,"y":-0.276},{"s":"subscan 4","x":-94,"y":-0.278},{"s":"subscan 4","x":-82,"y":-0.266},{"s":"subscan 4","x":-70,"y":-0.279},{"s":"subscan 4","x":-58,"y":-0.27},{"s":"subscan 4","x":-46,"y":-0.271},{"s":"subscan 4","x":-34,"y":-0.259},{"s":"subscan 4","x":-22,"y":-0.273},{"s":"subscan 4","x":-10,"y":-0.265},{"s":"subscan 4","x":2,"y":-0.266},{"s":"subscan 4","x":14,"y":-0.254},{"s":"subscan 4","x":26,"y":-0.268},{"s":"subscan 4","x":38,"y":-0.262},{"s":"subscan 4","x":50,"y":-0.264},{"s":"subscan 4","x":62,"y":-0.257},{"s":"subscan 4","x":74,"y":-0.271},{"s":"subscan 4","x":86,"y":-0.27},{"s":"subscan 4","x":98,"y":-0.273},{"s":"subscan 4","x":110,"y":-0.266},{"s":"subscan 4","x":122,"y":-0.281},{"s":"subscan 4","x":134,"y":-0.279},{"s":"subscan 4","x":146,"y":-0.282},{"s":"subscan 4","x":158,"y":-0.276},{"s":"subscan 4","x":170,"y":-0.29},{"s":"subscan 4","x":182,"y":-0.289},{"s":"subscan 4","x":194,"y":-0.291},{"s":"subscan 4","x":206,"y":-0.285},{"s":"subscan 4","x":218,"y":-0.299},{"s":"subscan 4","x":230,"y":-0.298},{"s":"subscan 4","x":242,"y":-0.3},{"s":"subscan 4","x":254,"y":-0.294},{"s":"subscan 4","x":266,"y":-0.307},{"s":"subscan 4","x":278,"y":-0.305},{"s":"subscan 4","x":290,"y":-0.307},{"s":"subscan 4","x":302,"y":-0.298},{"s":"subscan 4","x":314,"y":-0.311},{"s":"subscan 4","x":326,"y":-0.309},{"s":"subscan 4","x":338,"y":-0.31},{"s":"subscan 4","x":350,"y":-0.3},{"s":"subscan 4","x":362,"y":-0.314},{"s":"subscan 4","x":374,"y":-0.31},{"s":"subscan 4","x":386,"y":-0.309},{"s":"subscan 4","x":398,"y":-0.299},{"s":"subscan 4","x":410,"y":-0.313},{"s":"subscan 4","x":422,"y":-0.309},{"s":"subscan 4","x":434,"y":-0.308},{"s":"subscan 4","x":446,"y":-0.298},{"s":"subscan 4","x":458,"y":-0.313},{"s":"subscan 4","x":470,"y":-0.31},{"s":"subscan 4","x":482,"y":-0.307},{"s":"subscan 4","x":494,"y":-0.297},{"s":"subscan 4","x":506,"y":-0.311},{"s":"subscan 4","x":518,"y":-0.309},{"s":"subscan 4","x":530,"y":-0.306},{"s":"subscan 4","x":542,"y":-0.297},{"s":"subscan 4","x":554,"y":-0.31},{"s":"subscan 4","x":566,"y":-0.307},{"s":"subscan 4","x":578,"y":-0.305},{"s":"subscan 4","x":590,"y":-0.303}
]},
"layer":[
{"mark":{"type":"point","shape":"M-1,-1L1,1M1,-1L-1,1","filled":false,"strokeWidth":1,"size":49,"opacity":1,"clip":true},
"encoding":{
"x":{"field":"x","type":"quantitative","scale":{"domain":[-800,800],"nice":false,"zero":false},"axis":{"orient":"bottom","title":null,"labelPadding":9,"values":[-800,-600,-400,-200,0,200,400,600,800],"format":"d"}},
"y":{"field":"y","type":"quantitative","scale":{"domain":[-0.7,0.1],"nice":false,"zero":false},"axis":{"orient":"left","title":"T [Tcal]","titleX":-37,"titleY":122,"titleAngle":-90,"titleAlign":"center","titleBaseline":"bottom","values":[-0.7,-0.6,-0.5,-0.4,-0.3,-0.2,-0.1,0,0.1],"format":".1f"}},
"color":{"field":"s","type":"nominal","title":null,"scale":{"domain":["subscan 1","subscan 2","subscan 3","subscan 4"],"range":["#0000ff","#008000","#ff0000","#00bfbf"]}}}},
{"data":{"values":[{"x":0,"y":0}]},
"mark":{"type":"point","opacity":0},
"encoding":{
"x":{"field":"x","type":"quantitative","axis":{"orient":"top","title":null,"labels":false,"values":[-800,-600,-400,-200,0,200,400,600,800]}},
"y":{"field":"y","type":"quantitative","axis":{"orient":"right","title":null,"labels":false,"values":[-0.7,-0.6,-0.5,-0.4,-0.3,-0.2,-0.1,0,0.1]}}}}
],
"resolve":{"axis":{"x":"independent","y":"independent"}}
}
